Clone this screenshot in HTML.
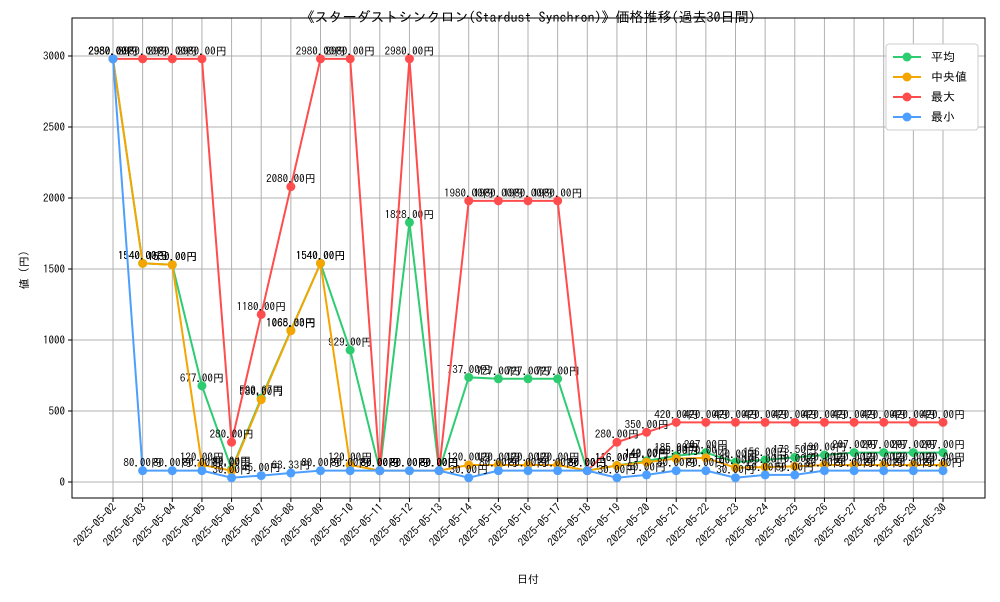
<!DOCTYPE html>
<html><head><meta charset="utf-8"><style>
body{margin:0;background:#fff;font-family:"IPAGothic","Noto Sans CJK JP",sans-serif}
</style></head><body>
<svg id="chart" width="1000" height="600" xmlns="http://www.w3.org/2000/svg" font-family="'IPAGothic','Noto Sans CJK JP',sans-serif"></svg>
<script>
const dates=["2025-05-02","2025-05-03","2025-05-04","2025-05-05","2025-05-06","2025-05-07","2025-05-08","2025-05-09","2025-05-10","2025-05-11","2025-05-12","2025-05-13","2025-05-14","2025-05-15","2025-05-16","2025-05-17","2025-05-18","2025-05-19","2025-05-20","2025-05-21","2025-05-22","2025-05-23","2025-05-24","2025-05-25","2025-05-26","2025-05-27","2025-05-28","2025-05-29","2025-05-30"];
const avgVals=[2980,1540,1530,677,90,590.67,1068.33,1540,929,80,1828,80,737,727,727,727,80,116,149,185,207,140,156,173.5,190,207,207,207,207];
const medVals=[2980,1540,1530,120,80,580,1065,1540,120,80,80,80,120,120,120,120,80,116,140,165,170,100,105,110,120,120,120,120,120];
const maxVals=[2980,2980,2980,2980,280,1180,2080,2980,2980,80,2980,80,1980,1980,1980,1980,80,280,350,420,420,420,420,420,420,420,420,420,420];
const minVals=[2980,80,80,80,30,45,63.33,80,80,80,80,80,30,80,80,80,80,30,50,80,80,30,50,50,80,80,80,80,80];
const yTicks=[0,500,1000,1500,2000,2500,3000];
const series=[["avg","平均","#2ecc71",avgVals],["median","中央値","#f5a500",medVals],["max","最大","#ff4d4d",maxVals],["min","最小","#4d9fff",minVals]];
const L=72,R=985,T=18,B=498;
const xs=i=>113+i*(943-113)/(dates.length-1);
const ys=v=>482-v*(482-56)/3000;
const svg=document.getElementById('chart');const NS="http://www.w3.org/2000/svg";
function mk(tag,attrs,parent){const e=document.createElementNS(NS,tag);for(const k in attrs)e.setAttribute(k,attrs[k]);(parent||svg).appendChild(e);return e;}
const grid=mk('g',{});


dates.forEach((d,i)=>{mk('line',{x1:xs(i),x2:xs(i),y1:T,y2:B,stroke:'#b0b0b0','stroke-width':1},grid);
 const t=mk('text',{x:0,y:0,'font-size':11,'text-anchor':'end',transform:`translate(${xs(i)+4},${B+10}) rotate(-45)`});t.textContent=d;
 
 
 mk('line',{x1:xs(i),x2:xs(i),y1:B,y2:B+4,stroke:'#000'});});
yTicks.forEach(v=>{mk('line',{x1:L,x2:R,y1:ys(v),y2:ys(v),stroke:'#b0b0b0','stroke-width':1},grid);
 const t=mk('text',{x:L-7,y:ys(v)+4,'font-size':11,'text-anchor':'end'});t.textContent=v;
 
 
 mk('line',{x1:L-4,x2:L,y1:ys(v),y2:ys(v),stroke:'#000'});});
const frame=mk('rect',{x:L,y:T,width:R-L,height:B-T,fill:'none',stroke:'#000'});


series.forEach(([id,name,c,vals])=>{
 const g=mk('g',{});
 
 
 mk('polyline',{points:vals.map((v,i)=>xs(i)+','+ys(v)).join(' '),fill:'none',stroke:c,'stroke-width':2},g);
 vals.forEach((v,i)=>{const p=mk('circle',{cx:xs(i),cy:ys(v),r:4.5,fill:c},g);
  
  
  const t=mk('text',{x:xs(i),y:ys(v)-4,'font-size':11,'text-anchor':'middle',fill:'#000'},g);t.textContent=v.toFixed(2)+'円';
  
  });
});
const title=mk('text',{x:528,y:22,'font-size':14,'text-anchor':'middle'});title.textContent='《スターダストシンクロン(Stardust Synchron)》価格推移(過去30日間)';


const xt=mk('text',{x:528,y:583,'font-size':11,'text-anchor':'middle'});xt.textContent='日付';


const yt=mk('text',{x:0,y:0,'font-size':11,'text-anchor':'middle',transform:'translate(28,270) rotate(-90)'});yt.textContent='値 (円)';


const lg=mk('g',{});


mk('rect',{x:886,y:44,width:92,height:86,fill:'#fff',stroke:'#ccc',rx:3},lg);
series.forEach(([id,name,c],k)=>{const y=57+k*20;
 const e=mk('g',{},lg);
 
 
 mk('line',{x1:893,x2:921,y1:y,y2:y,stroke:c,'stroke-width':2},e);
 mk('circle',{cx:907,cy:y,r:4.5,fill:c},e);
 const t=mk('text',{x:931,y:y+4,'font-size':12},e);t.textContent=name;});
</script>
</body></html>
